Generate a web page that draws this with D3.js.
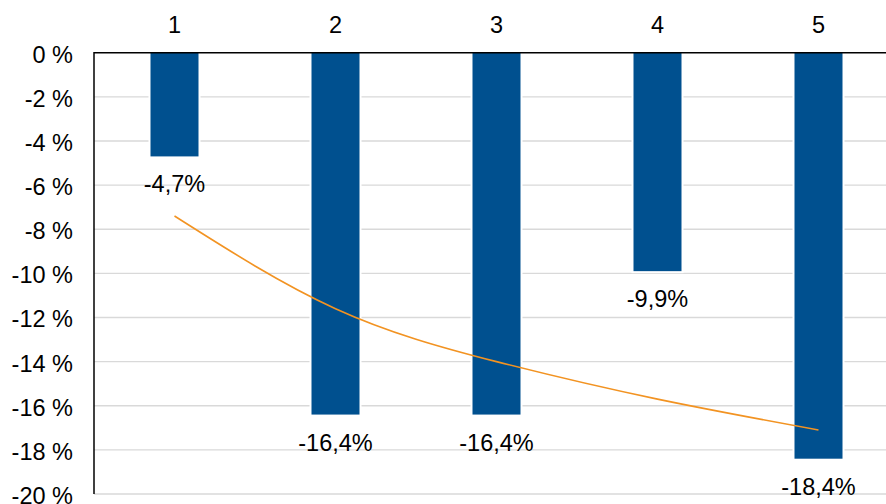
<!DOCTYPE html>
<html>
<head>
<meta charset="utf-8">
<script src="https://cdn.jsdelivr.net/npm/d3@7"></script>
<style>
  html, body { margin: 0; padding: 0; background: #fff; }
  svg { display: block; font-family: "Liberation Sans", Arial, sans-serif; }
</style>
</head>
<body>
<svg id="chart" width="886" height="504"></svg>
<script>
// Categories along the top axis
const categories = ["1", "2", "3", "4", "5"];
// Bar values (percent)
const values = [-4.7, -16.4, -16.4, -9.9, -18.4];
// Trend line values at each category (percent)
const trendValues = [-7.4, -11.6, -14.0, -15.7, -17.1];
// Y tick values (percent)
const yTicks = [0, -2, -4, -6, -8, -10, -12, -14, -16, -18, -20];

const svg = d3.select("#chart");
const plotLeft = 94, plotRight = 899, plotTop = 52.7, plotBottom = 494;
const fontSize = 23.5;

const x = d3.scaleBand().domain(categories).range([plotLeft, plotRight]).padding(0);
const cx = c => x(c) + x.bandwidth() / 2;
const y = d3.scaleLinear().domain([0, -20]).range([plotTop, plotBottom]);
const barW = 48;

const fmt = v => v.toFixed(1).replace(".", ",") + "%";

// Gridlines
svg.append("g").selectAll("line").data(yTicks.filter(t => t !== 0)).join("line")
  .attr("x1", plotLeft).attr("x2", 886)
  .attr("y1", d => y(d)).attr("y2", d => y(d))
  .attr("stroke", "#d9d9d9").attr("stroke-width", 1.4);

// White edge around bars that breaks the gridlines
svg.append("g").selectAll("rect").data(values).join("rect")
  .attr("x", (d, i) => cx(categories[i]) - barW / 2)
  .attr("width", barW)
  .attr("y", y(0))
  .attr("height", d => y(d) - y(0))
  .attr("fill", "#fff")
  .attr("stroke", "#fff").attr("stroke-width", 4);
// Bars
svg.append("g").selectAll("rect").data(values).join("rect")
  .attr("x", (d, i) => cx(categories[i]) - barW / 2)
  .attr("width", barW)
  .attr("y", y(0))
  .attr("height", d => y(d) - y(0))
  .attr("fill", "#00508F");

// Trend line
const line = d3.line()
  .x((d, i) => cx(categories[i]))
  .y(d => y(d))
  .curve(d3.curveNatural);
svg.append("path").datum(trendValues)
  .attr("d", line)
  .attr("fill", "none")
  .attr("stroke", "#F29322")
  .attr("stroke-width", 1.6);

// Axis lines
svg.append("line").attr("x1", plotLeft).attr("x2", 886).attr("y1", y(0)).attr("y2", y(0))
  .attr("stroke", "#000").attr("stroke-width", 1.5);
svg.append("line").attr("x1", plotLeft).attr("x2", plotLeft).attr("y1", y(0) - 0.75).attr("y2", plotBottom)
  .attr("stroke", "#000").attr("stroke-width", 1.5);

// Y tick labels
svg.append("g").selectAll("text").data(yTicks).join("text")
  .attr("x", 73).attr("y", d => y(d) + 10)
  .attr("text-anchor", "end")
  .attr("font-size", fontSize)
  .attr("fill", "#000")
  .text(d => d + " %");

// Category labels on top
svg.append("g").selectAll("text").data(categories).join("text")
  .attr("x", d => cx(d)).attr("y", 33.3)
  .attr("text-anchor", "middle")
  .attr("font-size", fontSize)
  .attr("fill", "#000")
  .text(d => d);

// Value labels below bars
svg.append("g").selectAll("text").data(values).join("text")
  .attr("x", (d, i) => cx(categories[i]))
  .attr("y", d => y(d) + 36)
  .attr("text-anchor", "middle")
  .attr("font-size", fontSize)
  .attr("fill", "#000")
  .text(d => fmt(d));
</script>
</body>
</html>
